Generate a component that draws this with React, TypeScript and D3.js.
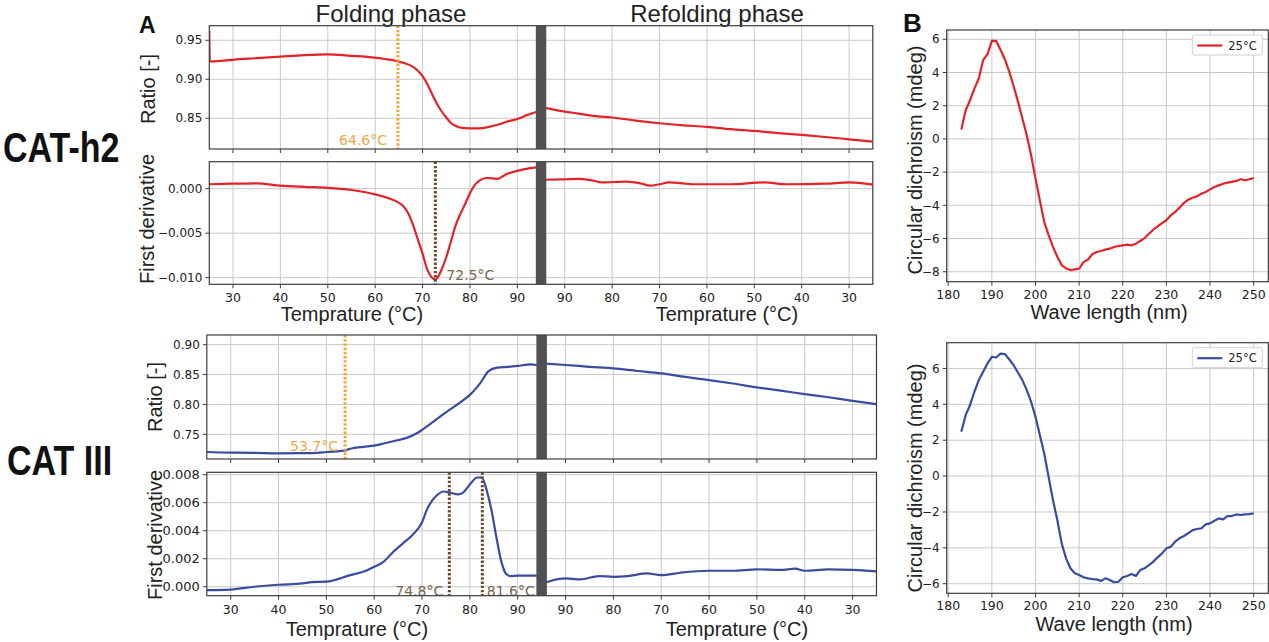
import React from 'react';
import * as d3 from 'd3';

type Pt = [number, number];

// CAT-h2 thermal scan: [temperature °C, value]
const h2RatioFold: Pt[] = [
  [25, 0.962], [25.1, 0.923], [28, 0.924], [30, 0.925], [35, 0.927], [40, 0.929], [45, 0.931],
  [50, 0.932], [55, 0.930], [58, 0.929], [62, 0.926], [64.5, 0.9235], [66, 0.921], [68, 0.916],
  [69, 0.911], [70, 0.904], [71, 0.894], [72, 0.881], [73, 0.869], [74, 0.859], [75, 0.851],
  [76, 0.844], [77, 0.840], [78, 0.838], [80, 0.837], [82, 0.837], [84, 0.839], [86, 0.842],
  [88, 0.846], [90, 0.849], [92, 0.854], [94, 0.858],
];
const h2RatioRefold: Pt[] = [
  [95, 0.865], [93, 0.862], [90, 0.8585], [87, 0.856], [84, 0.853], [80, 0.851], [75, 0.847],
  [70, 0.8436], [65, 0.841], [60, 0.839], [55, 0.836], [50, 0.8338], [45, 0.831], [40, 0.8286],
  [35, 0.826], [30, 0.823], [25, 0.820],
];
const h2DerivFold: Pt[] = [
  [25, 0.0005], [30, 0.00056], [35, 0.0006], [40, 0.00034], [45, 0.0002], [50, 0.0001],
  [55, -0.00015], [60, -0.00064], [63, -0.0011], [66, -0.002], [67, -0.0028], [68, -0.0041],
  [69, -0.0057], [70, -0.0073], [71, -0.0091], [72, -0.0100], [72.7, -0.0102], [73.5, -0.0097],
  [74, -0.0091], [75, -0.0077], [76, -0.0059], [77, -0.0041], [78, -0.0028], [79, -0.0017],
  [80, -0.0005], [81, 0.0004], [82, 0.0009], [83.5, 0.0012], [85.7, 0.0011], [87.8, 0.00165],
  [90, 0.002], [92.7, 0.0023], [94, 0.0024],
];
const h2DerivRefold: Pt[] = [
  [95, 0.001], [90, 0.00105], [87, 0.0011], [84, 0.0009], [82, 0.0007], [77, 0.0008],
  [74, 0.0006], [72, 0.00034], [70, 0.0005], [68, 0.0007], [65, 0.0006], [63, 0.0005],
  [55, 0.0005], [48, 0.0007], [43, 0.0005], [35, 0.00056], [30, 0.0007], [25, 0.00045],
];

// CAT III thermal scan
const c3RatioFold: Pt[] = [
  [25, 0.7204], [30, 0.7193], [35, 0.719], [40, 0.7182], [45, 0.7185], [48, 0.719], [50, 0.7204],
  [53.7, 0.7226], [55, 0.7259], [57.8, 0.7291], [60, 0.731], [62, 0.7346], [64.8, 0.740],
  [66.8, 0.744], [68.9, 0.7517], [70, 0.7575], [72, 0.769], [75.2, 0.788], [78.7, 0.8078],
  [80, 0.816], [82.2, 0.836], [83.9, 0.8556], [85.7, 0.8617], [88, 0.863], [90, 0.8645],
  [92.7, 0.867], [94, 0.866],
];
const c3RatioRefold: Pt[] = [
  [95, 0.8687], [90, 0.866], [85, 0.863], [80, 0.8603], [75, 0.856], [70, 0.852], [65, 0.846],
  [60, 0.8408], [55, 0.835], [50, 0.8285], [45, 0.823], [40, 0.8173], [35, 0.812], [30, 0.8061],
  [25, 0.8006],
];
const c3DerivFold: Pt[] = [
  [25, -0.00024], [30, -0.0002], [35, 0], [40, 0.00014], [45, 0.00024], [47, 0.00033],
  [50, 0.00036], [55, 0.00083], [58, 0.0011], [60, 0.00143], [62, 0.0018], [64, 0.0025],
  [66, 0.0031], [68, 0.0037], [70, 0.0046], [71, 0.0055], [72, 0.0061], [73, 0.0065],
  [74.5, 0.0068], [76, 0.0067], [77.5, 0.0066], [78.5, 0.0067], [80, 0.0073], [81.5, 0.0078],
  [82.5, 0.0078], [83.5, 0.0069], [84.5, 0.0055], [85.5, 0.0036], [86.5, 0.0019],
  [87.5, 0.00095], [88.5, 0.00076], [90, 0.00079], [94, 0.00079],
];
const c3DerivRefold: Pt[] = [
  [95, 0.00019], [93, 0.00043], [90, 0.0006], [87, 0.00052], [83, 0.00076], [80, 0.00071],
  [77, 0.00076], [73, 0.00095], [70, 0.00083], [66, 0.001], [60, 0.00114], [55, 0.00114],
  [50, 0.00124], [45, 0.0012], [42, 0.00129], [40, 0.00114], [35, 0.00124], [30, 0.0012],
  [25, 0.0011],
];

// CD spectra at 25°C, 183..250 nm (mdeg)
const cdWave = d3.range(183, 251);
const cdH2 = [
  0.56, 1.73, 2.33, 3.03, 3.64, 4.74, 5.1, 5.9, 5.9, 5.35, 4.78, 4.04, 3.17, 2.23, 1.23, 0.22,
  -0.98, -2.39, -3.7, -5.0, -5.8, -6.5, -7.1, -7.6, -7.8, -7.9, -7.86, -7.82, -7.42, -7.28,
  -6.95, -6.81, -6.75, -6.67, -6.61, -6.51, -6.45, -6.41, -6.37, -6.41, -6.31, -6.15, -5.97,
  -5.71, -5.47, -5.27, -5.07, -4.9, -4.6, -4.4, -4.14, -3.86, -3.66, -3.54, -3.46, -3.3, -3.2,
  -3.04, -2.9, -2.8, -2.7, -2.63, -2.59, -2.53, -2.43, -2.49, -2.43, -2.35,
];
const cdC3 = [
  2.47, 3.4, 3.96, 4.7, 5.35, 5.81, 6.28, 6.65, 6.61, 6.83, 6.8, 6.5, 6.18, 5.76, 5.35, 4.79,
  4.14, 3.3, 2.28, 1.26, -0.04, -1.34, -2.45, -3.75, -4.59, -5.14, -5.42, -5.51, -5.64, -5.7,
  -5.74, -5.76, -5.85, -5.7, -5.79, -5.92, -5.89, -5.64, -5.57, -5.46, -5.57, -5.24, -5.14,
  -4.96, -4.77, -4.53, -4.31, -4.03, -3.94, -3.66, -3.47, -3.34, -3.19, -3.01, -2.95, -2.92,
  -2.69, -2.64, -2.49, -2.36, -2.41, -2.23, -2.23, -2.14, -2.17, -2.14, -2.12, -2.08,
];

// ticks and annotations
const foldTicks = [30, 40, 50, 60, 70, 80, 90];
const refoldTicks = [90, 80, 70, 60, 50, 40, 30];
const h2RatioTicks = [0.85, 0.9, 0.95];
const h2DerivTicks = [-0.01, -0.005, 0];
const c3RatioTicks = [0.75, 0.8, 0.85, 0.9];
const c3DerivTicks = [0, 0.002, 0.004, 0.006, 0.008];
const cdXTicks = [180, 190, 200, 210, 220, 230, 240, 250];
const cdH2Ticks = [-8, -6, -4, -2, 0, 2, 4, 6];
const cdC3Ticks = [-6, -4, -2, 0, 2, 4, 6];
const h2OnsetT = [64.8];
const h2OnsetLabel = ['64.6°C'];
const h2PeakT = [72.7];
const h2PeakLabel = ['72.5°C'];
const c3OnsetT = [53.9];
const c3OnsetLabel = ['53.7°C'];
const c3PeakT = [75.7, 82.6];
const c3PeakLabel = ['74.8°C', '81.6°C'];

const RED = '#e2232a';
const BLUE = '#3b4c9e';
const ORANGE = '#f2a33a';
const BROWN = '#6b4a2b';
const TICK_FONT = 'DejaVu Sans, sans-serif';
const TITLE_FONT = 'Liberation Sans, Arial, sans-serif';

interface Mark { t: number; label: string; off: number; }

interface PhaseProps {
  id: string;
  left: number; right: number; top: number; bottom: number;
  yDomain: [number, number]; yTicks: number[]; yFmt: string; yFont?: number;
  fold: Pt[]; refold: Pt[]; color: string;
  xLabels?: boolean;
  marks?: Mark[]; markColor?: string; labelColor?: string; labelDy?: number;
}

function PhasePanel(p: PhaseProps) {
  const x = d3.scaleLinear().domain([25, 165]).range([p.left, p.right]);
  const y = d3.scaleLinear().domain(p.yDomain).range([p.bottom, p.top]);
  const line = d3.line<Pt>().x(d => x(d[0])).y(d => y(d[1])).curve(d3.curveMonotoneX);
  const refold = p.refold.map(([T, v]) => [190 - T, v] as Pt).sort((a, b) => a[0] - b[0]);
  const ticks = [
    ...foldTicks.map(T => ({ t: T, label: T })),
    ...refoldTicks.map(T => ({ t: 190 - T, label: T })),
  ];
  const fmt = d3.format(p.yFmt);
  return (
    <g>
      <defs>
        <clipPath id={p.id}>
          <rect x={p.left} y={p.top} width={p.right - p.left} height={p.bottom - p.top} />
        </clipPath>
      </defs>
      {ticks.map((d, i) => (
        <line key={'gx' + i} x1={x(d.t)} x2={x(d.t)} y1={p.top} y2={p.bottom} stroke="#c9c9c9" strokeWidth={1} />
      ))}
      {p.yTicks.map((v, i) => (
        <line key={'gy' + i} x1={p.left} x2={p.right} y1={y(v)} y2={y(v)} stroke="#c9c9c9" strokeWidth={1} />
      ))}
      <g clipPath={`url(#${p.id})`}>
        <path d={line(p.fold) || ''} fill="none" stroke={p.color} strokeWidth={2.2} />
        <path d={line(refold) || ''} fill="none" stroke={p.color} strokeWidth={2.2} />
        <rect x={x(93.9)} y={p.top} width={x(96.1) - x(93.9)} height={p.bottom - p.top} fill="#505055" />
        {(p.marks || []).map((m, i) => (
          <line key={'m' + i} x1={x(m.t)} x2={x(m.t)} y1={p.top} y2={p.bottom}
            stroke={p.markColor} strokeWidth={3} strokeDasharray="2.4,1.8" />
        ))}
      </g>
      {(p.marks || []).map((m, i) => (
        <text key={'ml' + i} x={x(m.t) + m.off} y={p.bottom + (p.labelDy ?? -4)}
          textAnchor={m.off < 0 ? 'end' : 'start'} fontFamily={TICK_FONT} fontSize={14}
          fill={p.labelColor}>{m.label}</text>
      ))}
      <rect x={p.left} y={p.top} width={p.right - p.left} height={p.bottom - p.top} fill="none" stroke="#3d3d3d" strokeWidth={1.2} />
      {p.yTicks.map((v, i) => (
        <g key={'yt' + i}>
          <line x1={p.left - 4} x2={p.left} y1={y(v)} y2={y(v)} stroke="#3d3d3d" strokeWidth={1} />
          <text x={p.left - 7} y={y(v)} dy="0.35em" textAnchor="end" fontFamily={TICK_FONT}
            fontSize={p.yFont ?? 12} fill="#222">{fmt(v)}</text>
        </g>
      ))}
      {ticks.map((d, i) => (
        <g key={'xt' + i}>
          <line x1={x(d.t)} x2={x(d.t)} y1={p.bottom} y2={p.bottom + 4} stroke="#3d3d3d" strokeWidth={1} />
          {p.xLabels && (
            <text x={x(d.t)} y={p.bottom + 18} textAnchor="middle" fontFamily={TICK_FONT} fontSize={12.5} fill="#222">{d.label}</text>
          )}
        </g>
      ))}
    </g>
  );
}

interface CdProps {
  left: number; right: number; top: number; bottom: number;
  yDomain: [number, number]; yTicks: number[]; values: number[]; color: string;
}

function CdPanel(p: CdProps) {
  const x = d3.scaleLinear().domain([179.65, 253.35]).range([p.left, p.right]);
  const y = d3.scaleLinear().domain(p.yDomain).range([p.bottom, p.top]);
  const pts: Pt[] = cdWave.map((w, i) => [w, p.values[i]]);
  const line = d3.line<Pt>().x(d => x(d[0])).y(d => y(d[1]));
  const fmt = d3.format('d');
  const lx = p.right - 76;
  const ly = p.top + 5;
  return (
    <g>
      {cdXTicks.map((v, i) => (
        <line key={'gx' + i} x1={x(v)} x2={x(v)} y1={p.top} y2={p.bottom} stroke="#c9c9c9" strokeWidth={1} />
      ))}
      {p.yTicks.map((v, i) => (
        <line key={'gy' + i} x1={p.left} x2={p.right} y1={y(v)} y2={y(v)} stroke="#c9c9c9" strokeWidth={1} />
      ))}
      <path d={line(pts) || ''} fill="none" stroke={p.color} strokeWidth={2.2} strokeLinejoin="round" />
      <rect x={p.left} y={p.top} width={p.right - p.left} height={p.bottom - p.top} fill="none" stroke="#3d3d3d" strokeWidth={1.2} />
      {p.yTicks.map((v, i) => (
        <g key={'yt' + i}>
          <line x1={p.left - 4} x2={p.left} y1={y(v)} y2={y(v)} stroke="#3d3d3d" />
          <text x={p.left - 7} y={y(v)} dy="0.35em" textAnchor="end" fontFamily={TICK_FONT} fontSize={12} fill="#222">{fmt(v)}</text>
        </g>
      ))}
      {cdXTicks.map((v, i) => (
        <g key={'xt' + i}>
          <line x1={x(v)} x2={x(v)} y1={p.bottom} y2={p.bottom + 4} stroke="#3d3d3d" />
          <text x={x(v)} y={p.bottom + 17} textAnchor="middle" fontFamily={TICK_FONT} fontSize={12.5} fill="#222">{v}</text>
        </g>
      ))}
      <rect x={lx} y={ly} width={70} height={20} rx={2} fill="#fff" stroke="#cfcfcf" />
      <line x1={lx + 5} x2={lx + 30} y1={ly + 10.5} y2={ly + 10.5} stroke={p.color} strokeWidth={2.2} />
      <text x={lx + 36} y={ly + 14.5} fontFamily={TICK_FONT} fontSize={11.5} fill="#222">25°C</text>
    </g>
  );
}

function VLabel({ x, y, text, size = 20 }: { x: number; y: number; text: string; size?: number }) {
  return (
    <text transform={`translate(${x},${y}) rotate(-90)`} textAnchor="middle" dominantBaseline="central"
      fontFamily={TITLE_FONT} fontSize={size} fill="#222">{text}</text>
  );
}

export default function App() {
  return (
    <svg width={1269} height={642} style={{ position: 'absolute', left: 0, top: 0, background: '#fff' }}>
      <rect width={1269} height={642} fill="#fff" />
      {/* headings */}
      <text x={391} y={22} textAnchor="middle" fontFamily={TITLE_FONT} fontSize={24} fill="#222">Folding phase</text>
      <text x={717} y={22} textAnchor="middle" fontFamily={TITLE_FONT} fontSize={24} fill="#222">Refolding phase</text>
      <text x={139} y={33} fontFamily={TITLE_FONT} fontWeight="bold" fontSize={23} fill="#111">A</text>
      <text x={903} y={32} fontFamily={TITLE_FONT} fontWeight="bold" fontSize={26} fill="#111">B</text>
      <text transform="translate(3,162) scale(1,1.25)" fontFamily={TITLE_FONT} fontWeight="bold" fontSize={34} fill="#111">CAT-h2</text>
      <text transform="translate(7,475) scale(1,1.25)" fontFamily={TITLE_FONT} fontWeight="bold" fontSize={34} fill="#111">CAT III</text>

      {/* CAT-h2 */}
      <PhasePanel id="c1" left={209.3} right={872.8} top={25.7} bottom={149}
        yDomain={[0.8106, 0.9687]} yTicks={h2RatioTicks} yFmt=".2f"
        fold={h2RatioFold} refold={h2RatioRefold} color={RED}
        marks={h2OnsetT.map((t, i) => ({ t, label: h2OnsetLabel[i], off: -11 }))}
        markColor={ORANGE} labelColor="#f0a848" labelDy={-4} />
      <PhasePanel id="c2" left={209.3} right={872.8} top={161.7} bottom={284.3}
        yDomain={[-0.01074, 0.00303]} yTicks={h2DerivTicks} yFmt=".3f"
        fold={h2DerivFold} refold={h2DerivRefold} color={RED} xLabels
        marks={h2PeakT.map((t, i) => ({ t, label: h2PeakLabel[i], off: 11 }))}
        markColor={BROWN} labelColor="#7a6650" labelDy={-4} />
      <VLabel x={148} y={89} text="Ratio [-]" />
      <VLabel x={147} y={219} text="First derivative" />
      <text x={352} y={321} textAnchor="middle" fontFamily={TITLE_FONT} fontSize={20} fill="#222">Temprature (°C)</text>
      <text x={727} y={321} textAnchor="middle" fontFamily={TITLE_FONT} fontSize={20} fill="#222">Temprature (°C)</text>

      {/* CAT III */}
      <PhasePanel id="c3" left={206.8} right={876.5} top={335} bottom={459}
        yDomain={[0.7087, 0.9162]} yTicks={c3RatioTicks} yFmt=".2f"
        fold={c3RatioFold} refold={c3RatioRefold} color={BLUE}
        marks={c3OnsetT.map((t, i) => ({ t, label: c3OnsetLabel[i], off: -7 }))}
        markColor={ORANGE} labelColor="#f0a848" labelDy={-8} />
      <PhasePanel id="c4" left={206.8} right={876.5} top={472.3} bottom={595.7}
        yDomain={[-0.00064, 0.00817]} yTicks={c3DerivTicks} yFmt=".3f" yFont={13}
        fold={c3DerivFold} refold={c3DerivRefold} color={BLUE} xLabels
        marks={c3PeakT.map((t, i) => ({ t, label: c3PeakLabel[i], off: i === 0 ? -6 : 4.5 }))}
        markColor={BROWN} labelColor="#7a6650" labelDy={0} />
      <VLabel x={155} y={397} text="Ratio [-]" />
      <VLabel x={155} y={535} text="First derivative" />
      <text x={357} y={636} textAnchor="middle" fontFamily={TITLE_FONT} fontSize={20} fill="#222">Temprature (°C)</text>
      <text x={737} y={636} textAnchor="middle" fontFamily={TITLE_FONT} fontSize={20} fill="#222">Temprature (°C)</text>

      {/* CD spectra */}
      <CdPanel left={946.7} right={1268.3} top={30} bottom={281.7}
        yDomain={[-8.6, 6.56]} yTicks={cdH2Ticks} values={cdH2} color={RED} />
      <VLabel x={915} y={160} text="Circular dichroism (mdeg)" />
      <text x={1109} y={319} textAnchor="middle" fontFamily={TITLE_FONT} fontSize={20} fill="#222">Wave length (nm)</text>
      <CdPanel left={946.7} right={1268.3} top={342.7} bottom={593.3}
        yDomain={[-6.535, 7.435]} yTicks={cdC3Ticks} values={cdC3} color={BLUE} />
      <VLabel x={915} y={478} text="Circular dichroism (mdeg)" />
      <text x={1114} y={631} textAnchor="middle" fontFamily={TITLE_FONT} fontSize={20} fill="#222">Wave length (nm)</text>
    </svg>
  );
}
